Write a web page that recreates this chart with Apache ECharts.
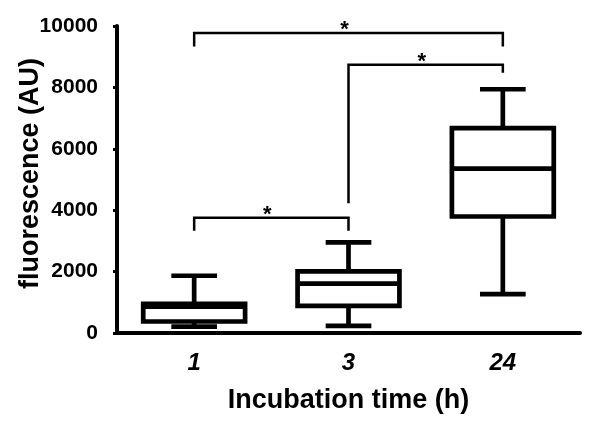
<!DOCTYPE html>
<html>
<head>
<meta charset="utf-8">
<script src="https://cdn.jsdelivr.net/npm/echarts@6/dist/echarts.min.js"></script>
<style>html,body{margin:0;padding:0;background:#fff}#c{width:600px;height:423px}</style>
</head>
<body>
<div id="c"></div>
<script>
// categories (incubation time, h)
var categories = ['1', '3', '24'];
// box statistics per category: min, Q1, median, Q3, max
var mins    = [205, 231, 1269];
var q1s     = [374, 882, 3794];
var medians = [862, 1611, 5353];
var q3s     = [947, 2005, 6675];
var maxs    = [1865, 2955, 7940];
// y axis tick labels
var yTicks = [0, 2000, 4000, 6000, 8000, 10000];
// significance brackets: from category, to category, bar height, left leg end, right leg end, label
var bracketFrom   = [0, 1, 0];
var bracketTo     = [2, 2, 1];
var bracketY      = [9770, 8740, 3752];
var bracketLeftY  = [9330, 4230, 3329];
var bracketRightY = [9330, 8480, 3329];
var bracketLabel  = ['*', '*', '*'];

var FONT = '"Liberation Sans", Arial, sans-serif';

var boxData = categories.map(function (c, i) {
  return [i, mins[i], q1s[i], medians[i], q3s[i], maxs[i]];
});
var bracketData = bracketFrom.map(function (f, i) {
  return [f, bracketTo[i], bracketY[i], bracketLeftY[i], bracketRightY[i], bracketLabel[i]];
});

var chart = echarts.init(document.getElementById('c'), null, {renderer: 'canvas'});
chart.setOption({
  backgroundColor: '#fff',
  animation: false,
  grid: {left: 117, top: 26, width: 463, height: 307, containLabel: false, outerBoundsMode: 'none'},
  xAxis: {
    type: 'category',
    data: categories,
    boundaryGap: true,
    axisLine: {lineStyle: {color: '#000', width: 4}},
    axisTick: {alignWithLabel: true, length: 7, lineStyle: {color: '#000', width: 3}},
    axisLabel: {color: '#000', fontFamily: FONT, fontWeight: 'bold', fontStyle: 'italic', fontSize: 24, margin: 18},
    name: 'Incubation time (h)',
    nameLocation: 'middle',
    nameGap: 54,
    nameMoveOverlap: false,
    nameTextStyle: {color: '#000', fontFamily: FONT, fontWeight: 'bold', fontSize: 27}
  },
  yAxis: {
    type: 'value',
    min: yTicks[0],
    max: yTicks[yTicks.length - 1],
    interval: yTicks[1] - yTicks[0],
    splitLine: {show: false},
    axisLine: {show: true, lineStyle: {color: '#000', width: 4}},
    axisTick: {show: true, length: 4, lineStyle: {color: '#000', width: 3}},
    axisLabel: {color: '#000', fontFamily: FONT, fontWeight: 'bold', fontSize: 21, margin: 19,
      formatter: function (v) { return String(v); }},
    name: 'fluorescence (AU)',
    nameLocation: 'middle',
    nameGap: 73,
    nameMoveOverlap: false,
    nameTextStyle: {color: '#000', fontFamily: FONT, fontWeight: 'bold', fontSize: 27, padding: [0, 0, 0, 12]}
  },
  series: [
    {
      type: 'custom',
      data: boxData,
      encode: {x: 0, y: [1, 2, 3, 4, 5]},
      renderItem: function (params, api) {
        var i = api.value(0);
        var band = api.size([1, 0])[0];
        var half = band * 0.33;
        var capHalf = band * 0.148;
        var pMin = api.coord([i, api.value(1)]);
        var pQ1 = api.coord([i, api.value(2)]);
        var pMed = api.coord([i, api.value(3)]);
        var pQ3 = api.coord([i, api.value(4)]);
        var pMax = api.coord([i, api.value(5)]);
        var x = pMin[0];
        var s = {stroke: '#000', lineWidth: 4.7, fill: null};
        return {
          type: 'group',
          children: [
            {type: 'line', shape: {x1: x, y1: pMin[1], x2: x, y2: pQ1[1]}, style: s},
            {type: 'line', shape: {x1: x, y1: pQ3[1], x2: x, y2: pMax[1]}, style: s},
            {type: 'line', shape: {x1: x - capHalf, y1: pMin[1], x2: x + capHalf, y2: pMin[1]}, style: s},
            {type: 'line', shape: {x1: x - capHalf, y1: pMax[1], x2: x + capHalf, y2: pMax[1]}, style: s},
            {type: 'rect', shape: {x: x - half, y: pQ3[1], width: half * 2, height: pQ1[1] - pQ3[1]},
              style: {stroke: '#000', lineWidth: 4.7, fill: '#fff'}},
            {type: 'line', shape: {x1: x - half, y1: pMed[1], x2: x + half, y2: pMed[1]}, style: s}
          ]
        };
      }
    },
    {
      type: 'custom',
      data: bracketData,
      encode: {x: [0, 1], y: [2, 3, 4]},
      renderItem: function (params, api) {
        var a = api.coord([api.value(0), api.value(2)]);
        var b = api.coord([api.value(1), api.value(2)]);
        var la = api.coord([api.value(0), api.value(3)]);
        var rb = api.coord([api.value(1), api.value(4)]);
        var s = {stroke: '#000', lineWidth: 2.5, fill: null};
        return {
          type: 'group',
          children: [
            {type: 'polyline', shape: {points: [[la[0], la[1]], [a[0], a[1]], [b[0], b[1]], [rb[0], rb[1]]]}, style: s},
            {type: 'text', x: (a[0] + b[0]) / 2 - 4, y: a[1] - 3,
              style: {text: bracketLabel[params.dataIndex], fill: '#000', font: 'bold 22px ' + FONT, align: 'center', verticalAlign: 'middle'}}
          ]
        };
      }
    }
  ]
});
</script>
</body>
</html>
